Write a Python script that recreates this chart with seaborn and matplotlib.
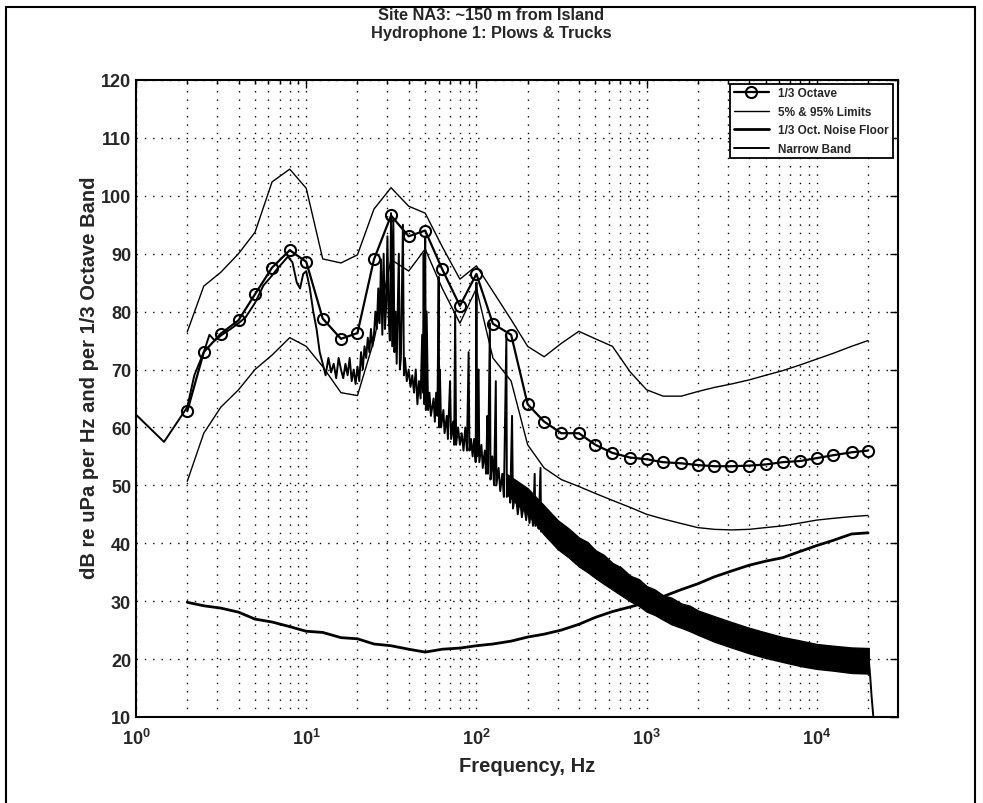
import matplotlib
matplotlib.use('Agg')
import matplotlib.pyplot as plt
import seaborn as sns
from matplotlib.patches import Rectangle
from matplotlib.ticker import LogLocator, NullFormatter

# 1/3 octave band centre frequencies (Hz)
third_oct_freq = [2, 2.5, 3.15, 4, 5, 6.3, 8, 10, 12.5, 16,
                  20, 25, 31.5, 40, 50, 63, 80, 100, 125, 160,
                  200, 250, 315, 400, 500, 630, 800, 1000, 1250, 1600,
                  2000, 2500, 3150, 4000, 5000, 6300, 8000, 10000, 12500, 16000,
                  20000]
third_oct_db = [62.8, 73.0, 76.2, 78.5, 83.0, 87.6, 90.6, 88.6, 78.8, 75.3,
                76.3, 89.0, 96.6, 93.0, 94.0, 87.3, 81.0, 86.5, 77.9, 76.0,
                64.0, 61.0, 59.0, 59.0, 57.0, 55.6, 54.8, 54.5, 54.0, 53.8,
                53.5, 53.3, 53.3, 53.4, 53.6, 54.0, 54.2, 54.7, 55.2, 55.7,
                56.0]
upper_db = [76.5, 84.4, 86.8, 90.0, 93.7, 102.4, 104.6, 101.3, 89.1, 88.4,
            89.8, 97.7, 101.4, 98.2, 97.0, 91.2, 85.6, 87.9, 83.5, 78.6,
            74.0, 72.2, 74.5, 76.6, 75.3, 74.0, 69.6, 66.5, 65.4, 65.4,
            66.2, 66.9, 67.5, 68.2, 69.0, 69.8, 70.8, 71.8, 72.8, 74.0,
            75.0]
lower_db = [50.7, 59.0, 63.5, 66.5, 70.0, 72.5, 75.5, 74.0, 70.5, 66.0,
            65.5, 75.0, 89.0, 87.0, 90.8, 84.0, 78.0, 84.0, 72.0, 68.0,
            57.0, 53.0, 51.0, 49.8, 48.6, 47.4, 46.2, 45.0, 44.2, 43.4,
            42.7, 42.4, 42.3, 42.4, 42.7, 43.0, 43.5, 44.0, 44.3, 44.6,
            44.8]
noise_db = [29.8, 29.2, 28.8, 28.1, 26.9, 26.4, 25.6, 24.8, 24.6, 23.7,
            23.5, 22.6, 22.3, 21.7, 21.2, 21.7, 21.9, 22.3, 22.6, 23.1,
            23.8, 24.3, 25.0, 26.0, 27.2, 28.2, 29.0, 29.8, 30.8, 32.0,
            33.0, 34.2, 35.2, 36.2, 36.9, 37.5, 38.6, 39.6, 40.5, 41.6,
            41.8]

# narrow band spectrum, low frequency part (read peak by peak)
nb_freq = [1.0, 1.46, 2.0, 2.2, 2.5, 2.7, 2.9, 3.2, 3.6, 4.0,
           4.4, 5.0, 5.6, 6.2, 6.8, 7.3, 7.8, 8.3, 8.8, 9.2,
           9.6, 10.0, 10.5, 11.0, 11.5, 12.0, 12.5, 13.0, 13.5, 14.0,
           14.5, 15.0, 15.5, 16.0, 16.5, 17.0, 17.5, 18.0, 18.5, 19.0,
           19.5, 20.0, 20.5, 21.0, 21.5, 22.0, 22.5, 23.0, 23.5, 24.0,
           24.5, 25.0, 25.5, 26.0, 26.5, 27.0, 27.5, 28.0, 28.5, 29.0,
           29.5, 30.0, 30.5, 31.0, 31.5, 32.0, 32.5, 33.0, 33.5, 34.0,
           35.0, 35.5, 36.0, 37.0, 37.5, 38.0, 39.0, 40.0, 41.0, 42.0,
           43.0, 44.0, 45.0, 46.0, 47.0, 48.0, 48.5, 49.0, 49.5, 50.0,
           50.5, 51.0, 52.0, 53.0, 54.0, 56.0, 57.0, 58.0, 59.0, 60.0,
           60.5, 61.0, 62.0, 64.0, 65.0, 67.0, 68.0, 70.0, 71.0, 73.0,
           74.0, 75.0, 76.0, 78.0, 80.0, 82.0, 84.0, 86.0, 88.0, 90.0,
           91.0, 93.0, 95.0, 97.0, 99.0, 100.0, 101.0, 103.0, 104.0, 107.0,
           109.0, 112.0, 114.0, 116.0, 117.0, 120.0, 121.0, 124.0, 127.0, 130.0,
           131.0, 135.0, 138.0, 142.0, 145.0, 150.0, 151.0, 155.0, 158.0, 162.0,
           164.0, 170.0, 175.0, 180.0, 185.0, 190.0, 196.0, 200.0, 205.0, 210.0,
           215.0, 220.0, 222.0, 228.0, 232.0, 238.0, 240.0, 246.0, 252.0, 260.0,
           268.0, 276.0, 285.0, 295.0, 305.0]
nb_db = [62.2, 57.5, 63.5, 69.0, 73.0, 76.0, 75.0, 76.0, 77.0, 78.0,
         79.0, 81.5, 84.5, 86.0, 87.5, 88.5, 89.5, 88.5, 85.0, 84.0,
         86.5, 87.0, 84.0, 80.0, 77.0, 73.0, 71.0, 69.0, 72.0, 69.5,
         71.0, 68.5, 72.0, 70.0, 68.5, 71.0, 69.0, 72.0, 68.0, 70.0,
         67.5, 70.5, 68.0, 73.0, 70.0, 74.0, 72.0, 75.5, 73.0, 77.0,
         74.0, 76.0, 80.0, 77.0, 84.0, 78.0, 89.0, 76.0, 90.0, 77.0,
         81.0, 93.0, 79.0, 75.0, 97.0, 74.0, 96.0, 73.0, 80.0, 71.0,
         90.0, 70.0, 72.0, 95.0, 69.0, 72.0, 68.0, 70.0, 67.0, 69.0,
         66.0, 70.0, 64.0, 68.0, 65.0, 76.0, 66.0, 90.0, 64.0, 93.0,
         63.0, 80.0, 63.0, 66.0, 62.0, 65.0, 61.0, 66.0, 62.0, 86.0,
         60.0, 70.0, 60.0, 63.0, 59.0, 62.0, 58.0, 68.0, 58.0, 61.0,
         57.0, 80.0, 57.0, 60.0, 57.0, 59.0, 56.0, 60.0, 56.0, 73.0,
         56.0, 58.0, 55.0, 58.0, 54.0, 85.0, 55.0, 70.0, 54.0, 57.0,
         53.0, 56.0, 52.0, 62.0, 52.0, 78.0, 51.0, 55.0, 50.0, 68.0,
         50.0, 53.0, 49.0, 52.0, 48.0, 76.0, 48.0, 51.0, 47.0, 62.0,
         46.0, 49.0, 45.0, 48.0, 44.5, 47.0, 44.0, 47.0, 43.5, 46.0,
         43.0, 52.0, 43.0, 46.0, 42.5, 53.0, 42.0, 45.0, 41.5, 44.0,
         41.0, 43.5, 40.5, 43.0, 40.0]

# narrow band, dense high frequency part: upper / lower edge of the trace
band_freq = [150, 200, 250, 300, 350, 400, 450, 500, 560, 630,
             710, 800, 900, 1000, 1120, 1250, 1400, 1600, 1800, 2000,
             2500, 3150, 4000, 5000, 6300, 8000, 10000, 12500, 16000, 20200]
band_hi = [52.0, 49.5, 46.5, 44.0, 42.5, 41.0, 40.2, 38.8, 38.0, 36.6,
           35.8, 34.4, 33.8, 32.6, 32.0, 31.0, 30.6, 29.6, 29.2, 28.4,
           27.4, 26.4, 25.4, 24.6, 23.8, 23.2, 22.6, 22.3, 22.0, 21.9]
band_lo = [48.5, 45.0, 41.5, 39.0, 37.5, 36.0, 35.0, 34.0, 33.0, 32.0,
           31.0, 30.0, 29.2, 28.2, 27.6, 26.8, 26.0, 25.4, 24.8, 24.2,
           23.0, 22.0, 21.0, 20.2, 19.5, 18.8, 18.3, 18.0, 17.6, 17.5]
tail_freq = [20200, 20600, 21000, 21500]
tail_db = [20.0, 17.0, 13.5, 10.0]

y_ticks = [10, 20, 30, 40, 50, 60, 70, 80, 90, 100, 110, 120]
x_ticks = [1, 10, 100, 1000, 10000]
x_ticklabels = [r'$\mathbf{10^{0}}$', r'$\mathbf{10^{1}}$', r'$\mathbf{10^{2}}$',
                r'$\mathbf{10^{3}}$', r'$\mathbf{10^{4}}$']
legend_labels = ['1/3 Octave', '5% & 95% Limits', '1/3 Oct. Noise Floor', 'Narrow Band']

sns.set_style('white')
plt.rcParams['font.family'] = ['Liberation Sans', 'DejaVu Sans']
plt.rcParams['font.weight'] = 'bold'
plt.rcParams['mathtext.fontset'] = 'custom'
plt.rcParams['mathtext.bf'] = 'Liberation Sans:bold'
plt.rcParams['mathtext.rm'] = 'Liberation Sans:bold'

fig = plt.figure(figsize=(9.83, 8.04), dpi=100)
ax = fig.add_axes([0.1384, 0.107, 0.7751, 0.7923])

# narrow band
ax.fill_between(band_freq, band_lo, band_hi, color='k', lw=1.0, zorder=2)
sns.lineplot(x=nb_freq, y=nb_db, ax=ax, color='k', lw=1.4,
             estimator=None, sort=False, zorder=3)
sns.lineplot(x=tail_freq, y=tail_db, ax=ax, color='k', lw=1.4,
             estimator=None, sort=False, zorder=3)

# limits
sns.lineplot(x=third_oct_freq, y=upper_db, ax=ax, color='k', lw=1.0,
             estimator=None, zorder=4)
sns.lineplot(x=third_oct_freq, y=lower_db, ax=ax, color='k', lw=1.0,
             estimator=None, zorder=4)
# noise floor
sns.lineplot(x=third_oct_freq, y=noise_db, ax=ax, color='k', lw=2.0,
             estimator=None, zorder=4)
# 1/3 octave
sns.lineplot(x=third_oct_freq, y=third_oct_db, ax=ax, color='k', lw=1.6,
             marker='o', markersize=8, markerfacecolor='none',
             markeredgecolor='k', markeredgewidth=1.5,
             estimator=None, zorder=5)

ax.set_xscale('log')
ax.set_xlim(1, 3e4)
ax.set_ylim(10, 120)
ax.set_yticks(y_ticks)
ax.set_xticks(x_ticks)
ax.set_xticklabels(x_ticklabels)
ax.xaxis.set_minor_locator(LogLocator(base=10, subs=range(2, 10), numticks=20))
ax.xaxis.set_minor_formatter(NullFormatter())

ax.set_axisbelow(True)
dots = (0, (1, 5))
ax.grid(which='major', axis='both', color='k', linestyle=dots, lw=1.0)
ax.grid(which='minor', axis='x', color='k', linestyle=dots, lw=1.0)

for s in ax.spines.values():
    s.set_color('k')
    s.set_linewidth(1.5)
ax.tick_params(which='both', direction='in', top=True, right=True,
               color='k', width=1.0, labelsize=13)
ax.tick_params(which='major', length=6)
ax.tick_params(which='minor', length=3)
ax.tick_params(axis='x', pad=8)
for lab in ax.get_yticklabels():
    lab.set_fontweight('bold')

ax.set_xlabel('Frequency, Hz', fontsize=14.5, fontweight='bold')
ax.set_ylabel('dB re uPa per Hz and per 1/3 Octave Band', fontsize=14.5,
              fontweight='bold')
ax.xaxis.set_label_coords(0.513, -0.062)
ax.yaxis.set_label_coords(-0.048, 0.534)

fig.text(0.5, 0.981, 'Site NA3: ~150 m from Island', ha='center', va='center',
         fontsize=11.8, fontweight='bold')
fig.text(0.5, 0.958, 'Hydrophone 1: Plows & Trucks', ha='center', va='center',
         fontsize=11.8, fontweight='bold')

# legend in the original order
lines = ax.get_lines()
h_nb, h_up, h_noise, h_oct = lines[0], lines[2], lines[4], lines[5]
leg = ax.legend([h_oct, h_up, h_noise, h_nb], legend_labels,
                loc='upper right', bbox_to_anchor=(0.993, 0.994),
                prop={'weight': 'bold', 'size': 8.5},
                frameon=True, fancybox=False, framealpha=1, edgecolor='k',
                handlelength=3.0, borderpad=0.3, labelspacing=0.55,
                handletextpad=0.8, borderaxespad=0)
leg.get_frame().set_linewidth(1.3)

# outer frame of the page
fig.patches.append(Rectangle((0.006, -0.02), 0.986, 1.01, transform=fig.transFigure,
                             fill=False, edgecolor='k', lw=1.5))

fig.savefig('out.png', dpi=100)
